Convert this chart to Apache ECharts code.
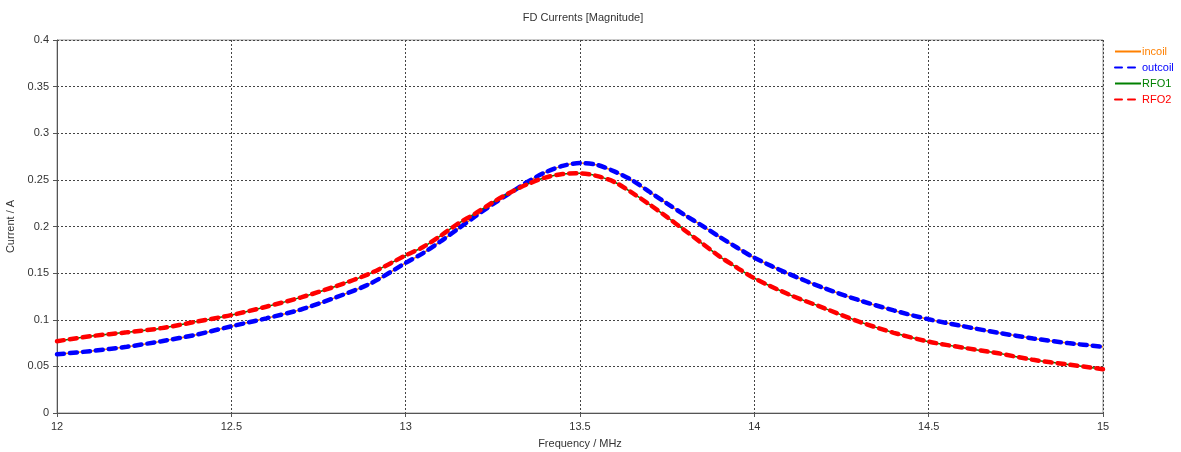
<!DOCTYPE html>
<html><head><meta charset="utf-8">
<script src="https://cdn.jsdelivr.net/npm/echarts@6/dist/echarts.min.js"></script>
<style>html,body{margin:0;padding:0;background:#fff}#c{width:1181px;height:452px}</style>
</head><body><div id="c"></div>
<script>
const freq = [12.0,12.1,12.2,12.3,12.4,12.5,12.6,12.7,12.8,12.9,13.0,13.05,13.1,13.15,13.2,13.25,13.3,13.35,13.4,13.45,13.5,13.55,13.6,13.65,13.7,13.75,13.8,13.85,13.9,13.95,14.0,14.1,14.2,14.3,14.4,14.5,14.6,14.7,14.8,14.9,15.0];
const incoil  = [0.063,0.0665,0.071,0.077,0.084,0.093,0.1015,0.111,0.124,0.139,0.161,0.1715,0.184,0.1975,0.211,0.224,0.236,0.248,0.258,0.265,0.268,0.266,0.2588,0.2495,0.237,0.2245,0.2125,0.201,0.189,0.1775,0.1665,0.149,0.134,0.121,0.110,0.1005,0.093,0.086,0.080,0.075,0.071];
const outcoil = [0.063,0.0665,0.071,0.077,0.084,0.093,0.1015,0.111,0.124,0.139,0.161,0.1715,0.184,0.1975,0.211,0.224,0.236,0.248,0.258,0.265,0.268,0.266,0.2588,0.2495,0.237,0.2245,0.2125,0.201,0.189,0.1775,0.1665,0.149,0.134,0.121,0.110,0.1005,0.093,0.086,0.080,0.075,0.071];
const RFO1    = [0.077,0.0825,0.0865,0.091,0.098,0.105,0.114,0.124,0.136,0.150,0.169,0.178,0.190,0.203,0.214,0.226,0.2365,0.2455,0.2525,0.2563,0.257,0.254,0.2475,0.236,0.2235,0.210,0.196,0.182,0.168,0.156,0.1445,0.127,0.1125,0.098,0.086,0.0765,0.070,0.064,0.057,0.052,0.047];
const RFO2    = [0.077,0.0825,0.0865,0.091,0.098,0.105,0.114,0.124,0.136,0.150,0.169,0.178,0.190,0.203,0.214,0.226,0.2365,0.2455,0.2525,0.2563,0.257,0.254,0.2475,0.236,0.2235,0.210,0.196,0.182,0.168,0.156,0.1445,0.127,0.1125,0.098,0.086,0.0765,0.070,0.064,0.057,0.052,0.047];
const names = ['incoil','outcoil','RFO1','RFO2'];
const colors = ['#ff8000','#0000ff','#008000','#ff0000'];

const pair = (ys) => freq.map((f,i)=>[f,ys[i]]);
const font = '"Liberation Sans", Arial, sans-serif';
const chart = echarts.init(document.getElementById('c'));
chart.setOption({
  animation:false,
  textStyle:{fontFamily:font},
  title:{text:'FD Currents [Magnitude]',left:578,top:7,textAlign:'center',
    textStyle:{fontSize:11,fontWeight:'normal',color:'#333',fontFamily:font}},
  legend:{orient:'vertical',left:1109,top:41,itemGap:5,itemWidth:26,itemHeight:12,
    itemStyle:{opacity:0},
    textStyle:{fontSize:11,fontFamily:font,padding:[0,0,0,-4]},
    data:names.map((n,i)=>({name:n,textStyle:{color:colors[i]}}))},
  grid:{left:57,right:78,top:40,bottom:39,show:true,borderColor:'#999',borderWidth:1,outerBoundsMode:'none',containLabel:false},
  xAxis:{type:'value',min:12,max:15,interval:0.5,name:'Frequency / MHz',nameLocation:'middle',nameGap:25,
    nameTextStyle:{fontSize:11,color:'#333',fontFamily:font},
    axisLine:{lineStyle:{color:'#555'}},axisTick:{show:true,length:4,lineStyle:{color:'#555'}},
    axisLabel:{fontSize:11,color:'#333',margin:8,fontFamily:font},
    splitLine:{show:true,lineStyle:{color:'#444',type:[2,2],width:1}}},
  yAxis:{type:'value',min:0,max:0.4,interval:0.05,name:'Current / A',nameLocation:'middle',nameGap:35,
    nameTextStyle:{fontSize:11,color:'#333',fontFamily:font},
    axisLine:{show:true,lineStyle:{color:'#555'}},axisTick:{show:true,length:4,lineStyle:{color:'#555'}},
    axisLabel:{fontSize:11,color:'#333',margin:8,fontFamily:font},
    splitLine:{show:true,lineStyle:{color:'#444',type:[2,2],width:1}}},
  series:[
    {name:'incoil',type:'line',data:pair(incoil),smooth:0.3,symbol:'none',z:2,
      lineStyle:{color:colors[0],width:1.5},itemStyle:{color:colors[0]}},
    {name:'outcoil',type:'line',data:pair(outcoil),smooth:0.3,symbol:'none',z:3,
      lineStyle:{color:colors[1],width:4.5,type:[7,6],cap:'round'},itemStyle:{color:colors[1]}},
    {name:'RFO1',type:'line',data:pair(RFO1),smooth:0.3,symbol:'none',z:4,
      lineStyle:{color:colors[2],width:1.5},itemStyle:{color:colors[2]}},
    {name:'RFO2',type:'line',data:pair(RFO2),smooth:0.3,symbol:'none',z:5,
      lineStyle:{color:colors[3],width:4.5,type:[7,6],cap:'round'},itemStyle:{color:colors[3]}}
  ]
});
</script></body></html>
